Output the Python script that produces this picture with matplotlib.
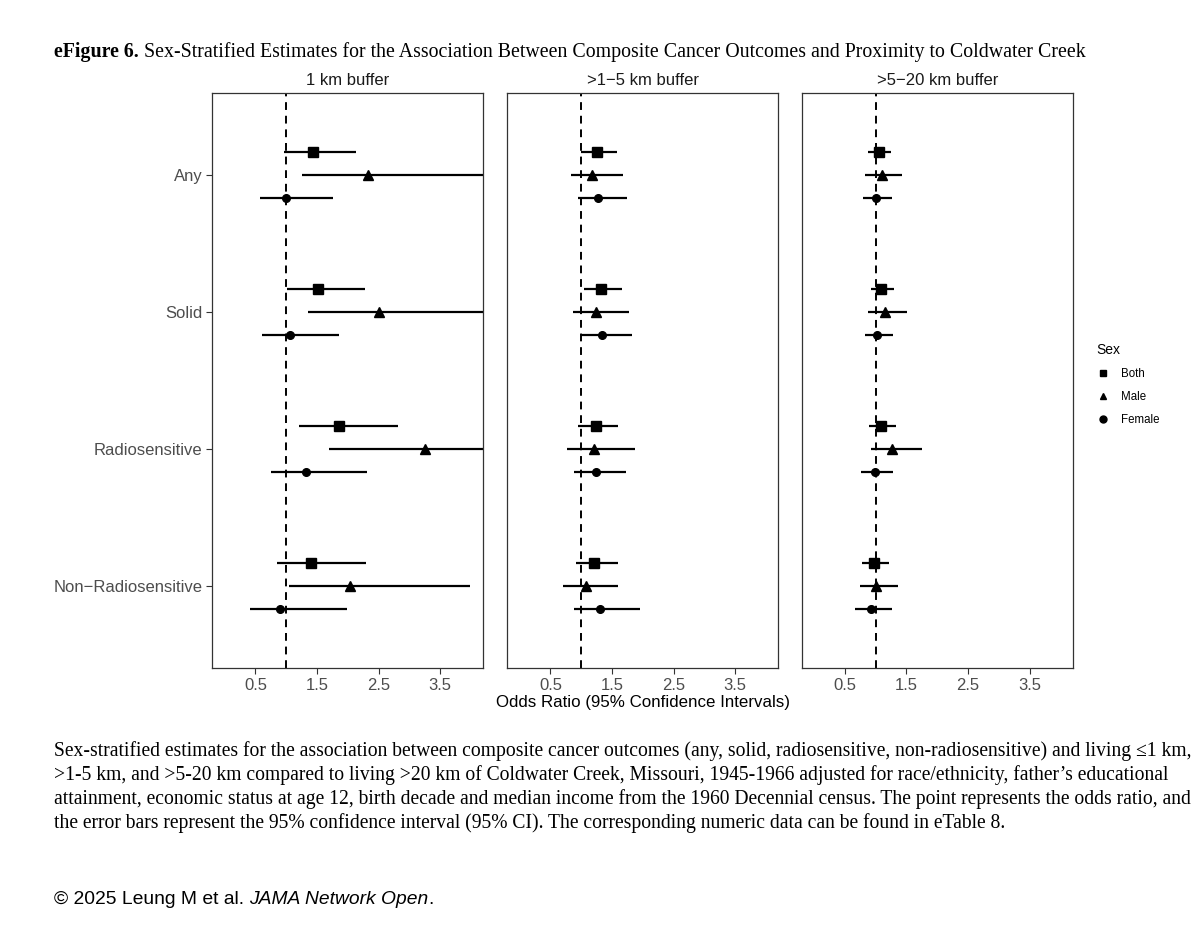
import numpy as np
import matplotlib.pyplot as plt
from matplotlib.lines import Line2D

plt.rcParams['font.family'] = ['Liberation Sans', 'DejaVu Sans']

outcomes = ["Any", "Solid", "Radiosensitive", "Non\u2212Radiosensitive"]
panels = ["1 km buffer", ">1\u22125 km buffer", ">5\u221220 km buffer"]
sexes = ["Both", "Male", "Female"]

# odds ratios, [panel][outcome] -> Both, Male, Female
or_1km = [[1.44, 2.32, 1.00], [1.52, 2.51, 1.06], [1.85, 3.25, 1.32], [1.40, 2.04, 0.90]]
lo_1km = [[0.96, 1.26, 0.58], [1.02, 1.35, 0.61], [1.21, 1.69, 0.75], [0.85, 1.05, 0.42]]
hi_1km = [[2.14, 4.60, 1.76], [2.28, 4.90, 1.85], [2.81, 6.20, 2.31], [2.30, 3.99, 1.98]]

or_5km = [[1.26, 1.18, 1.28], [1.32, 1.24, 1.34], [1.24, 1.21, 1.24], [1.21, 1.07, 1.31]]
lo_5km = [[1.00, 0.83, 0.95], [1.05, 0.87, 1.00], [0.95, 0.77, 0.89], [0.92, 0.71, 0.89]]
hi_5km = [[1.58, 1.68, 1.75], [1.66, 1.78, 1.82], [1.60, 1.88, 1.72], [1.59, 1.59, 1.95]]

or_20km = [[1.05, 1.10, 1.00], [1.08, 1.15, 1.03], [1.09, 1.27, 0.99], [0.97, 1.00, 0.92]]
lo_20km = [[0.88, 0.83, 0.79], [0.92, 0.88, 0.82], [0.89, 0.92, 0.76], [0.78, 0.74, 0.66]]
hi_20km = [[1.25, 1.43, 1.26], [1.30, 1.51, 1.29], [1.33, 1.75, 1.29], [1.21, 1.36, 1.26]]

all_or = [or_1km, or_5km, or_20km]
all_lo = [lo_1km, lo_5km, lo_20km]
all_hi = [hi_1km, hi_5km, hi_20km]

markers = {"Both": "s", "Male": "^", "Female": "o"}
msizes = {"Both": 6.5, "Male": 6.5, "Female": 5.5}
offsets = {"Both": -0.167, "Male": 0.0, "Female": 0.167}

fig = plt.figure(figsize=(12, 9.43), dpi=100)
lefts = [212.3, 507.3, 801.7]
W, H = 1200, 943
pw = 271
top, bottom = 93, 668

ypos = np.arange(1, len(outcomes) + 1)
axes = []
for p in range(3):
    ax = fig.add_axes([lefts[p] / W, (H - bottom) / H, pw / W, (bottom - top) / H])
    axes.append(ax)
    ax.axvline(1, color='black', ls=(0, (4, 3)), lw=1.4, zorder=1)
    for j, s in enumerate(sexes):
        ors = np.array([all_or[p][i][j] for i in range(4)])
        los = np.array([all_lo[p][i][j] for i in range(4)])
        his = np.array([all_hi[p][i][j] for i in range(4)])
        yy = ypos + offsets[s]
        ax.hlines(yy, los, his, color='black', lw=1.6, zorder=2)
        ax.plot(ors, yy, ls='none', marker=markers[s], ms=msizes[s],
                color='black', zorder=3)
    ax.set_xlim(-0.2, 4.2)
    ax.set_ylim(4.6, 0.4)
    ax.set_xticks([0.5, 1.5, 2.5, 3.5])
    ax.set_xticklabels(["0.5", "1.5", "2.5", "3.5"])
    ax.tick_params(axis='both', labelsize=12, labelcolor='#4d4d4d',
                   color='#333333', length=4, width=0.8, pad=3)
    if p == 0:
        ax.set_yticks(ypos)
        ax.set_yticklabels(outcomes)
    else:
        ax.set_yticks([])
    for sp in ax.spines.values():
        sp.set_color('#333333')
        sp.set_linewidth(0.9)
    ax.set_title(panels[p], fontsize=12, color='#1a1a1a', pad=6)

axes[1].set_xlabel("Odds Ratio (95% Confidence Intervals)", fontsize=12.2,
                   color='black', labelpad=2)

handles = [Line2D([], [], ls='none', marker=markers[s], ms=5, color='black')
           for s in sexes]
leg = fig.legend(handles, sexes, title="Sex", frameon=False, fontsize=8.3,
                 title_fontsize=10, loc='upper left',
                 bbox_to_anchor=(1086 / W, (H - 333) / H),
                 handlelength=1.2, handletextpad=0.9, labelspacing=0.95)
leg._legend_box.align = "left"

fig.canvas.draw()
r = fig.canvas.get_renderer()

def chain(parts, x, y, **kw):
    for txt, extra in parts:
        t = fig.text(x / W, 1 - y / H, txt, va='center', ha='left', **kw, **extra)
        x = t.get_window_extent(r).x1

chain([("eFigure 6.", dict(fontweight='bold')),
       (" Sex-Stratified Estimates for the Association Between Composite Cancer Outcomes and Proximity to Coldwater Creek", {})],
      54, 52, family='Liberation Serif', fontsize=14.27)

caption = [
    "Sex-stratified estimates for the association between composite cancer outcomes (any, solid, radiosensitive, non-radiosensitive) and living \u22641 km,",
    ">1-5 km, and >5-20 km compared to living >20 km of Coldwater Creek, Missouri, 1945-1966 adjusted for race/ethnicity, father\u2019s educational",
    "attainment, economic status at age 12, birth decade and median income from the 1960 Decennial census. The point represents the odds ratio, and",
    "the error bars represent the 95% confidence interval (95% CI). The corresponding numeric data can be found in eTable 8.",
]
for k, line in enumerate(caption):
    fig.text(54 / W, 1 - (751 + 24 * k) / H, line, va='center', ha='left',
             family=['Liberation Serif', 'DejaVu Serif'], fontsize=14.15)

chain([("\u00a9 2025 Leung M et al. ", {}), ("JAMA Network Open", dict(style='italic')),
       (".", {})], 54, 899, family='Liberation Sans', fontsize=13.9)

fig.savefig("out.png", dpi=100)
